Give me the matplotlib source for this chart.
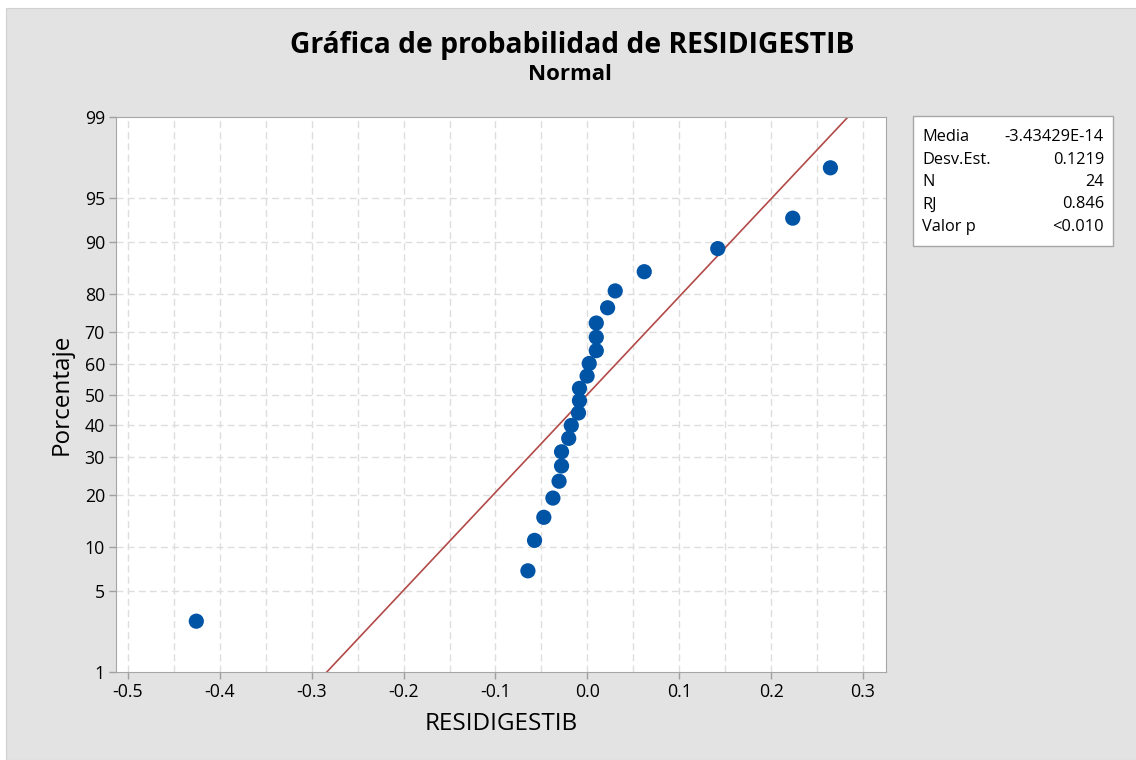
from statistics import NormalDist
import matplotlib
matplotlib.use("Agg")
import matplotlib.pyplot as plt
import numpy as np

plt.rcParams['font.family'] = ['Open Sans', 'DejaVu Sans']

# residuos (ordenados)
residuos = [-0.4256, -0.0647, -0.0575, -0.0474, -0.0375, -0.0308, -0.0281, -0.0281,
            -0.0203, -0.0175, -0.0097, -0.0086, -0.0086, -0.0003, 0.0020, 0.0097,
            0.0097, 0.0097, 0.0220, 0.0303, 0.0619, 0.1419, 0.2235, 0.2645]
media = -3.43429e-14
desv = 0.1219
ytick_pct = [1, 5, 10, 20, 30, 40, 50, 60, 70, 80, 90, 95, 99]
xticks = [-0.5, -0.4, -0.3, -0.2, -0.1, 0.0, 0.1, 0.2, 0.3]
tabla = [("Media", "-3.43429E-14"), ("Desv.Est.", "0.1219"), ("N", "24"),
         ("RJ", "0.846"), ("Valor p", "<0.010")]

nd = NormalDist()
n = len(residuos)
# rangos de mediana (Minitab)
pct = [(i - 0.3) / (n + 0.4) for i in range(1, n + 1)]
z = [nd.inv_cdf(p) for p in pct]

fig = plt.figure(figsize=(11.36, 7.6), dpi=100, facecolor='white')
fig.patches.append(plt.Rectangle((6 / 1136, 0), 1, 1 - 8 / 760, transform=fig.transFigure,
                                 facecolor='#e3e3e3', edgecolor='#d0d0d0', lw=0.8, zorder=-1))

ax = fig.add_axes([116 / 1136, 1 - 672 / 760, (886 - 116) / 1136, (672 - 117) / 760])
ax.set_facecolor('white')

zlim = nd.inv_cdf(0.01)
ax.set_ylim(zlim, -zlim)
ax.set_xlim(-0.513, 0.325)

# grid
for gx in np.arange(-0.5, 0.31, 0.05):
    ax.axvline(gx, color='#dedede', lw=1, ls=(0, (5, 3)), zorder=0)
for p in ytick_pct[1:-1]:
    ax.axhline(nd.inv_cdf(p / 100), color='#dedede', lw=1, ls=(0, (5, 3)), zorder=0)

# linea ajustada
zz = np.linspace(zlim - 0.5, -zlim + 0.5, 50)
ax.plot(media + desv * zz, zz, color='#b24a48', lw=1.2, zorder=2)

ax.scatter(residuos, z, s=120, color='#0054a6', zorder=3, edgecolors='none')

ax.set_yticks([nd.inv_cdf(p / 100) for p in ytick_pct])
ax.set_yticklabels([str(p) for p in ytick_pct])
ax.set_xticks(xticks)
ax.set_xticklabels(["%.1f" % t for t in xticks])
ax.tick_params(labelsize=12.8, color='#a0a0a0', length=5, width=1, pad=3)
for s in ax.spines.values():
    s.set_color('#a6a6a6')

ax.set_xlabel("RESIDIGESTIB", fontsize=17.5, labelpad=8)
ax.set_ylabel("Porcentaje", fontsize=17.5, labelpad=8)

fig.text(572 / 1136, 1 - 45 / 760, "Gráfica de probabilidad de RESIDIGESTIB", fontsize=20.3,
         fontweight='bold', ha='center', va='center')
fig.text(570 / 1136, 1 - 74 / 760, "Normal", fontsize=16, fontweight='bold',
         ha='center', va='center')

# cuadro de estadisticas
fig.patches.append(plt.Rectangle((913 / 1136, 1 - 246 / 760), 200 / 1136, 130 / 760,
                                 transform=fig.transFigure, facecolor='white',
                                 edgecolor='#a6a6a6', lw=1))
for k, (lab, val) in enumerate(tabla):
    yy = 1 - (137 + k * 22.5) / 760
    fig.text(922 / 1136, yy, lab, fontsize=11.8, va='center', ha='left')
    fig.text(1104 / 1136, yy, val, fontsize=11.8, va='center', ha='right')

fig.savefig("out.png", dpi=100, facecolor=fig.get_facecolor())
